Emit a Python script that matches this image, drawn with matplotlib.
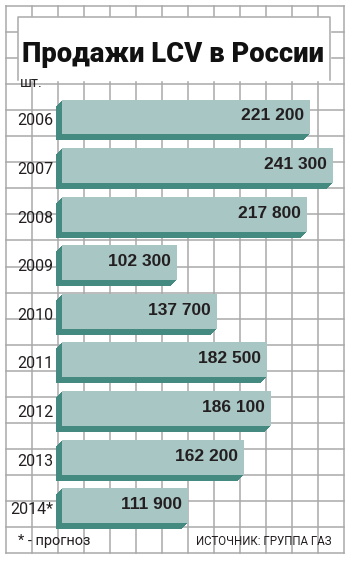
import matplotlib
matplotlib.use('Agg')
import matplotlib.pyplot as plt
import matplotlib.patheffects as pe

# data
years = ['2006', '2007', '2008', '2009', '2010', '2011', '2012', '2013', '2014*']
sales = [221200, 241300, 217800, 102300, 137700, 182500, 186100, 162200, 111900]

FACE = '#a8c6c4'
SIDE = '#448a80'
GRID = '#a9a9a9'
INK = '#231f20'

W, H = 352, 562
fig = plt.figure(figsize=(W / 100, H / 100), dpi=100)

# ─── background grid (pixel coords) ───────────────────────────────────────────
bg = fig.add_axes([0, 0, 1, 1])
bg.set_xlim(0, W)
bg.set_ylim(H, 0)
bg.axis('off')
for k in range(14):
    x = 6 + 26 * k
    bg.plot([x, x], [6, 553], color=GRID, lw=1.1, zorder=1)
for k in range(22):
    y = 6 + 26.05 * k
    bg.plot([6, 344], [y, y], color=GRID, lw=1.1, zorder=1)

# white title box
bg.fill_between([18, 330], 17, 80, color='white', zorder=2)
bg.plot([18, 18, 330, 330], [80, 17, 17, 80], color=GRID, lw=1.1, zorder=3)
bg.text(22, 62, 'Продажи LCV в России', fontsize=19.7, fontweight='black',
        family='Roboto', color='#111111', va='baseline', ha='left', zorder=4)
bg.text(20, 87, 'шт.', fontsize=10.5, family='Roboto', color=INK,
        va='baseline', ha='left', zorder=4)
bg.text(18, 545, '* - прогноз', fontsize=10.5, family='Roboto', color=INK,
        va='baseline', ha='left', zorder=4)
bg.text(331, 545, 'ИСТОЧНИК: ГРУППА ГАЗ', fontsize=8.3, family='Roboto',
        color=INK, va='baseline', ha='right', zorder=4)

# ─── bars ─────────────────────────────────────────────────────────────────────
ax = fig.add_axes([62 / W, 1 - 530 / H, 282 / W, (530 - 92.7) / H])
ax.set_xlim(0, 282 / 0.001123)
ax.set_ylim(len(years) - 0.5, -0.5)
ax.axis('off')

step = 72 / 100  # one pixel in points
shadow = [pe.SimplePatchShadow(offset=(-k * step, -k * step), shadow_rgbFace=SIDE, alpha=1.0)
          for k in range(1, 7)]
bars = ax.barh(range(len(years)), sales, height=0.72, color=FACE, lw=0)
for b in bars:
    b.set_clip_on(False)
    b.set_path_effects(shadow + [pe.Normal()])

for i, (yr, v) in enumerate(zip(years, sales)):
    ax.annotate(yr, xy=(0, i), xytext=(-9, -4), textcoords='offset pixels',
                ha='right', va='center', fontsize=11.5, family='Roboto', color=INK)
    ax.annotate(f"{v:,}".replace(',', ' '), xy=(v, i), xytext=(-6, 1),
                textcoords='offset pixels', ha='right', va='center',
                fontsize=12.5, fontweight='bold', family='Liberation Sans', color=INK)

fig.savefig('out.png', dpi=100)
